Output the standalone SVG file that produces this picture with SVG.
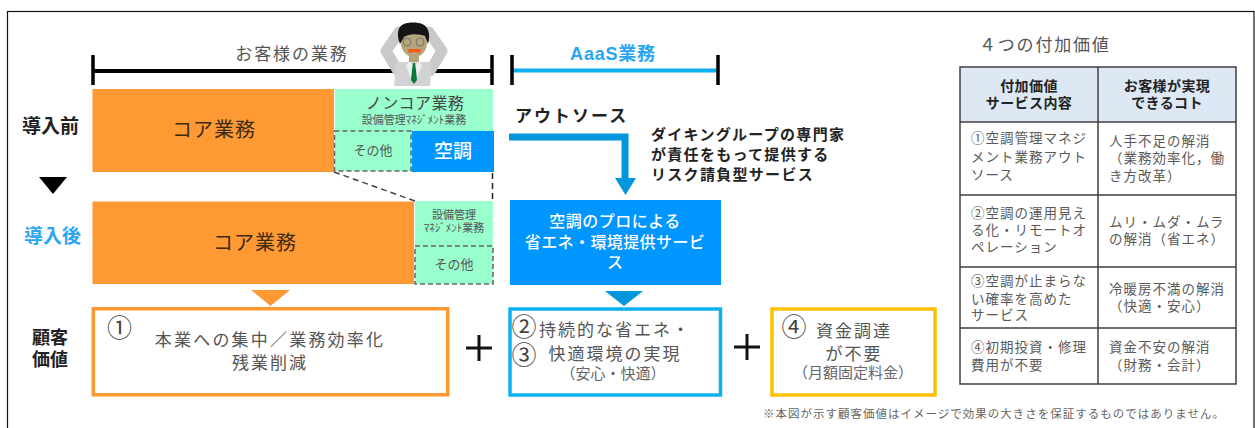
<svg xmlns="http://www.w3.org/2000/svg" width="1255" height="428" viewBox="0 0 1255 428">
<style>
text{font-family:"Noto Sans CJK JP","Noto Sans",sans-serif;fill:#444}
.c{text-anchor:middle}
.k{fill:#222;font-weight:700}
.b{fill:#2aa5f2;font-weight:700}
.w{fill:#fff}
.core{font-size:20px;fill:#3a2a10;letter-spacing:1px}
.mid{font-size:11px;fill:#555}
.oth{font-size:13px;fill:#555}
.val{font-size:17px;fill:#555;letter-spacing:2px}
.sub{font-size:15px;fill:#666}
.num{font-size:25px;fill:#444}
.t{font-size:13.5px;fill:#5a5a5a;letter-spacing:1px}
.th{font-size:14px;fill:#222;font-weight:700;letter-spacing:.4px}
.core-fill{fill:#f93}
.mint{fill:#9fc}
.dash{fill:none;stroke:#666;stroke-width:1.5;stroke-dasharray:5 3}
.tick{stroke:#000;stroke-width:3.5}
.grid{stroke:#404040;stroke-width:1.5;fill:none}
.box{fill:#fff;stroke-width:3.5}
</style>
<rect x="7.5" y="11.5" width="1246.5" height="430" fill="#fff" stroke="#111" stroke-width="1.2"/>

<g id="connectors">
  <path d="M334 172 415 201" fill="none" stroke="#444" stroke-width="1.5" stroke-dasharray="6 4"/>
  <path d="M492.500 173V200" fill="none" stroke="#222" stroke-width="1.5" stroke-dasharray="6 4"/>
  <path d="M509 137H625V178" fill="none" stroke="#0096dc" stroke-width="7"/>
  <path d="M615 178H636L625.500 195Z" fill="#0096dc"/>
  <path d="M39 177H67L53 194Z" fill="#000"/>
  <path d="M251 290H290L270.500 306Z" fill="#f93"/>
  <path d="M605 291H643L624 306Z" fill="#0096dc"/>
</g>

<g id="bracket-customer">
  <path d="M93 71H492" stroke="#000" stroke-width="4"/>
  <path class="tick" d="M93 55V85M492 55V85"/>
  <text class="c" x="292" y="60" font-size="17" letter-spacing="1.9" style="fill:#555">お客様の業務</text>
</g>

<g id="worried-person">
  <path d="M399 32 386 51 398 71M429 32 442 51 430 71" fill="none" stroke="#c9c9c9" stroke-width="11" stroke-linecap="round" stroke-linejoin="round"/>
  <path d="M396 62H432L430 86H394Z" fill="#d2d2d2"/>
  <path d="M409 60 414 67 419 60 422 66 415 82H412L406 66Z" fill="#eee"/>
  <path d="M413 63H415L416 70 417 80 414 84 411 80 412 70Z" fill="#0a7a3c"/>
  <rect x="409" y="54" width="10" height="8" fill="#b8a47c"/>
  <ellipse cx="414" cy="43" rx="13" ry="14" fill="#b8a47c"/>
  <path d="M400 44C396 34 398 26 404 24 408 22 418 22 422 24 428 26 431 34 428 44L425 36C420 34 409 33 404 37Z" fill="#151515"/>
  <circle cx="407" cy="42" r="4" fill="none" stroke="#666" stroke-width=".8"/>
  <circle cx="420" cy="42" r="4" fill="none" stroke="#666" stroke-width=".8"/>
  <path d="M408 49H421L420 53 415 52 409 53Z" fill="#f05a14"/>
</g>

<g id="before-core"><rect class="core-fill" x="92.500" y="89" width="241.500" height="83"/>
  <text class="c core" x="214" y="137">コア業務</text></g>
<g id="before-noncore"><rect class="mint" x="335" y="89" width="158" height="82"/>
  <text class="c" x="415" y="109" font-size="16" letter-spacing=".4" style="fill:#444">ノンコア業務</text>
  <text class="c mid" x="414" y="124">設備管理ﾏﾈｼﾞﾒﾝﾄ業務</text></g>
<g id="before-other"><rect class="dash" x="334.500" y="131" width="76.500" height="40"/>
  <text class="c oth" x="373" y="155">その他</text></g>
<g id="before-aircon"><rect x="412" y="131" width="82" height="41" fill="#0096ff"/>
  <text class="c w" x="453" y="158" font-size="19" font-weight="500">空調</text></g>

<g id="after-core"><rect class="core-fill" x="92.500" y="201.500" width="321.500" height="82.500"/>
  <text class="c core" x="255" y="250">コア業務</text></g>
<g id="after-noncore"><rect class="mint" x="415" y="201" width="78" height="83"/>
  <text class="c mid" x="454" y="219">設備管理</text>
  <text class="c mid" x="454" y="232">ﾏﾈｼﾞﾒﾝﾄ業務</text></g>
<g id="after-other"><rect class="dash" x="415" y="246" width="78" height="38"/>
  <text class="c oth" x="454" y="269">その他</text></g>

<g id="row-labels">
  <text class="c k" x="50.500" y="133" font-size="19">導入前</text>
  <text class="c b" x="52.500" y="243" font-size="19">導入後</text>
  <text class="c k" x="50" y="344" font-size="18">顧客</text>
  <text class="c k" x="50" y="366" font-size="18">価値</text>
</g>

<g id="bracket-aaas">
  <path d="M512 70.500H718" stroke="#0ab0f0" stroke-width="4"/>
  <path class="tick" d="M512 55V85M718 55V85"/>
  <text class="c b" x="613" y="60" font-size="18" letter-spacing=".8" style="font-family:'Liberation Sans','Noto Sans CJK JP',sans-serif">AaaS業務</text>
</g>

<g id="outsource">
  <text x="515" y="122" font-size="17" letter-spacing="2" class="k">アウトソース</text>
  <text x="651" y="140" font-size="15" letter-spacing="1.300" class="k">ダイキングループの専門家</text>
  <text x="651" y="160" font-size="15" letter-spacing="1.300" class="k">が責任をもって提供する</text>
  <text x="651" y="180" font-size="15" letter-spacing="1.300" class="k">リスク請負型サービス</text>
</g>

<g id="service"><rect x="510" y="200" width="211" height="85" fill="#0096ff"/>
  <text class="c w" x="615" y="227" font-size="16" font-weight="500" letter-spacing=".5">空調のプロによる</text>
  <text class="c w" x="615" y="248" font-size="16" font-weight="500" letter-spacing=".4">省エネ・環境提供サービ</text>
  <text class="c w" x="615" y="268" font-size="16" font-weight="500">ス</text></g>

<g id="value-1"><rect class="box" x="93.250" y="308.750" width="354.500" height="86" stroke="#f93"/>
  <text class="num c" x="119.500" y="337">①</text>
  <text class="c val" x="270" y="346" style="letter-spacing:2.200px">本業への集中／業務効率化</text>
  <text class="c val" x="270" y="369">残業削減</text></g>

<g id="plus-1"><path d="M466 348H492M479 335V361" stroke="#111" stroke-width="3"/></g>

<g id="value-2"><rect class="box" x="510" y="309" width="210.500" height="86" stroke="#0ab0f0"/>
  <text class="num c" x="524" y="336">②</text>
  <text class="num c" x="524" y="364">③</text>
  <text class="c val" x="615" y="336">持続的な省エネ・</text>
  <text class="c val" x="615" y="360">快適環境の実現</text>
  <text class="c sub" x="613" y="379">（安心・快適）</text></g>

<g id="plus-2"><path d="M734 347H760M747 334V360" stroke="#111" stroke-width="3"/></g>

<g id="value-4"><rect class="box" x="772" y="309" width="163" height="86" stroke="#ffc000"/>
  <text class="num c" x="794" y="336">④</text>
  <text class="c val" x="854" y="337">資金調達</text>
  <text class="c val" x="854" y="360">が不要</text>
  <text class="c sub" x="853" y="378">（月額固定料金）</text></g>

<text id="footnote" x="763" y="418" font-size="11.500" style="fill:#666" letter-spacing="1">※本図が示す顧客価値はイメージで効果の大きさを保証するものではありません。</text>

<g id="value-table">
  <text x="979" y="51" font-size="17" letter-spacing="1.800" style="fill:#555">４つの付加価値</text>
  <rect x="960" y="67" width="276" height="55" fill="#dde8f4"/>
  <path class="grid" d="M960 67H1236V384H960ZM1098 67V384M960 122H1236M960 195H1236M960 267H1236M960 328H1236"/>
  <text class="c th" x="1029" y="91">付加価値</text>
  <text class="c th" x="1029" y="108">サービス内容</text>
  <text class="c th" x="1167" y="91">お客様が実現</text>
  <text class="c th" x="1167" y="108">できるコト</text>
  <text class="t" x="971" y="143">①空調管理マネジ</text>
  <text class="t" x="971" y="162">メント業務アウト</text>
  <text class="t" x="971" y="180">ソース</text>
  <text class="t" x="1109" y="146">人手不足の解消</text>
  <text class="t" x="1109" y="163">（業務効率化，働</text>
  <text class="t" x="1109" y="181">き方改革）</text>
  <text class="t" x="971" y="218">②空調の運用見え</text>
  <text class="t" x="971" y="235">る化・リモートオ</text>
  <text class="t" x="971" y="252">ペレーション</text>
  <text class="t" x="1109" y="227">ムリ・ムダ・ムラ</text>
  <text class="t" x="1109" y="244">の解消（省エネ）</text>
  <text class="t" x="971" y="286">③空調が止まらな</text>
  <text class="t" x="971" y="304">い確率を高めた</text>
  <text class="t" x="971" y="320">サービス</text>
  <text class="t" x="1109" y="294">冷暖房不満の解消</text>
  <text class="t" x="1109" y="311">（快適・安心）</text>
  <text class="t" x="971" y="352">④初期投資・修理</text>
  <text class="t" x="971" y="370">費用が不要</text>
  <text class="t" x="1109" y="352">資金不安の解消</text>
  <text class="t" x="1109" y="370">（財務・会計）</text>
</g>
</svg>
